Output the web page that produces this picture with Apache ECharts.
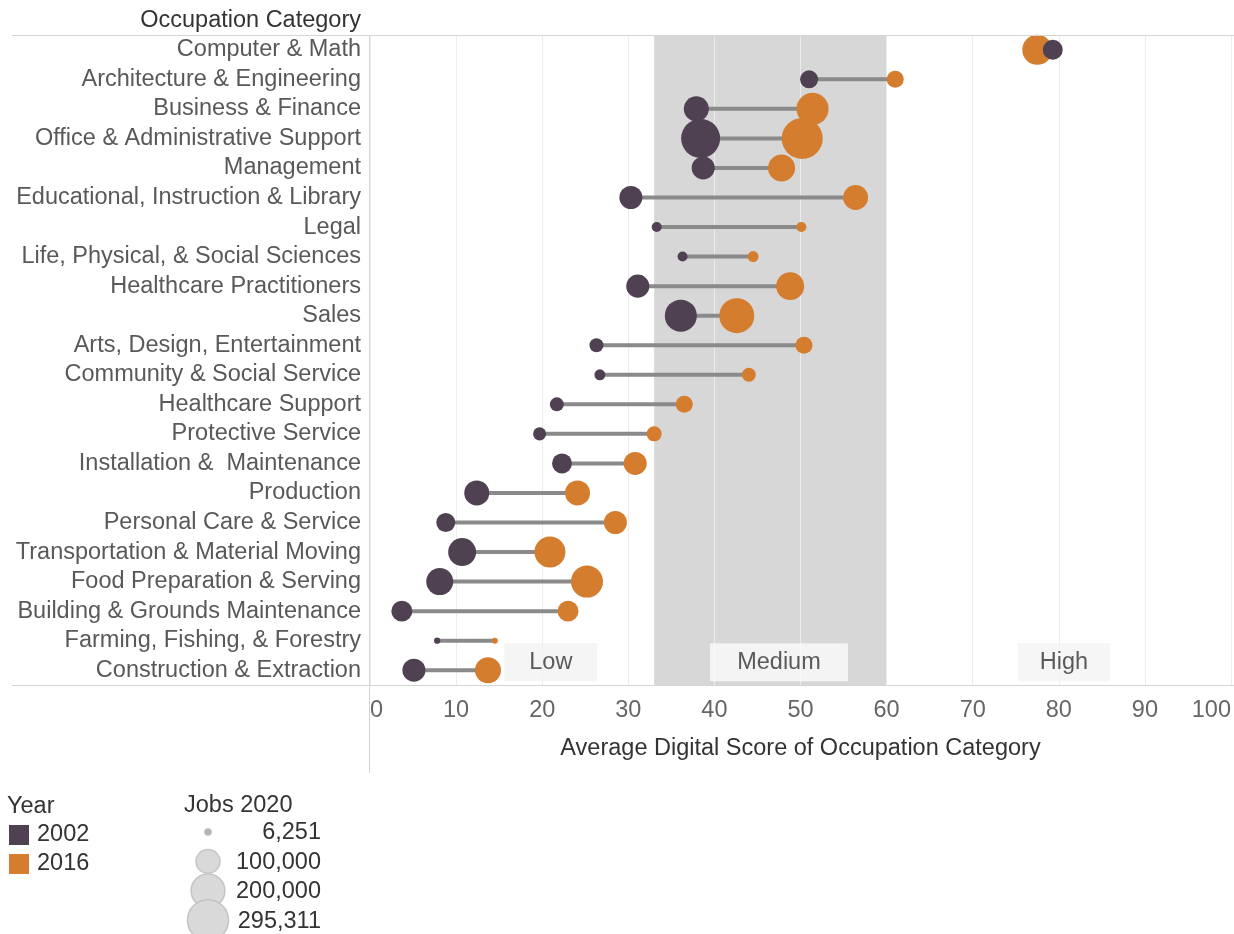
<!DOCTYPE html>
<html>
<head>
<meta charset="utf-8">
<script src="https://cdn.jsdelivr.net/npm/echarts@6/dist/echarts.min.js"></script>
<style>
html,body{margin:0;padding:0;background:#fff;}
#chart{width:1234px;height:934px;}
</style>
</head>
<body>
<div id="chart"></div>
<script>
const categories = [
  'Computer & Math','Architecture & Engineering','Business & Finance','Office & Administrative Support',
  'Management','Educational, Instruction & Library','Legal','Life, Physical, & Social Sciences',
  'Healthcare Practitioners','Sales','Arts, Design, Entertainment','Community & Social Service',
  'Healthcare Support','Protective Service','Installation &  Maintenance','Production',
  'Personal Care & Service','Transportation & Material Moving','Food Preparation & Serving',
  'Building & Grounds Maintenance','Farming, Fishing, & Forestry','Construction & Extraction'
];
const score2002 = [79.3, 51.0, 37.9, 38.4, 38.7, 30.3, 33.3, 36.3, 31.1, 36.1, 26.3, 26.7, 21.7, 19.7, 22.3, 12.4, 8.8, 10.7, 8.1, 3.7, 7.8, 5.1];
const score2016 = [77.5, 61.0, 51.4, 50.2, 47.8, 56.4, 50.1, 44.5, 48.8, 42.6, 50.4, 44.0, 36.5, 33.0, 30.8, 24.1, 28.5, 20.9, 25.2, 23.0, 14.5, 13.7];
const jobs2002 = [70000, 57000, 110000, 267000, 93000, 93000, 17500, 17500, 93000, 180000, 34000, 21000, 34000, 30000, 70000, 110000, 63000, 137000, 128000, 77000, 6800, 93000];
const jobs2016 = [158000, 51000, 180000, 295311, 128000, 110000, 17500, 21000, 137000, 215000, 51000, 34000, 51000, 39500, 93000, 110000, 93000, 169000, 180000, 77000, 6251, 119000];
const xTicks = [0, 10, 20, 30, 40, 50, 60, 70, 80, 90, 100];
const bandRange = [33, 60];
const bandLabels = ['Low', 'Medium', 'High'];
const bandLabelX = [21.0, 47.5, 80.6];
const years = ['2002', '2016'];
const sizeLegendValues = [6251, 100000, 200000, 295311];

// styles
const C2002 = '#4f4152', C2016 = '#d57d2e';
const FONT = "'Liberation Sans', Arial, sans-serif";
const FS = 23.5;
const K = 0.0755; // diameter per sqrt(jobs)
const diam = v => K * Math.sqrt(v);
const boxW = [93, 138, 92];
const boxColor = ['#f3f3f3', '#fbfbfb', '#f4f4f4'];

const chart = echarts.init(document.getElementById('chart'));

function txt(x, y, s, align, color) {
  return {type:'text', x:x, y:y, style:{text:s, font:FS+'px '+FONT, fill:color||'#333', align:align||'left', textAlign:align||'left', verticalAlign:'middle', textVerticalAlign:'middle'}};
}

const graphic = [
  {type:'line', shape:{x1:12,y1:35.5,x2:1234,y2:35.5}, style:{stroke:'#d4d4d4',lineWidth:1}, z:10},
  {type:'line', shape:{x1:12,y1:685.5,x2:1234,y2:685.5}, style:{stroke:'#d4d4d4',lineWidth:1}, z:10},
  {type:'line', shape:{x1:369.5,y1:35,x2:369.5,y2:773}, style:{stroke:'#d4d4d4',lineWidth:1}, z:10},
  txt(361, 21, 'Occupation Category', 'right'),
  txt(7, 807, 'Year'),
  txt(184, 806, 'Jobs 2020')
];
years.forEach((y, i) => {
  graphic.push({type:'rect', shape:{x:9, y:825 + i*29, width:20, height:20}, style:{fill: i===0 ? C2002 : C2016}});
  graphic.push(txt(37, 835 + i*29, y));
});
sizeLegendValues.forEach((v, i) => {
  const cy = 832 + i*29.4;
  graphic.push({type:'circle', shape:{cx:208, cy:cy, r:diam(v)/2},
    style:{fill: i===0 ? '#b5b5b5' : '#d9d9d9', stroke: i===0 ? '#b5b5b5' : '#c4c4c4', lineWidth:1.5}});
  graphic.push(txt(321, cy + 1, v.toLocaleString('en-US'), 'right'));
});

chart.setOption({
  animation:false,
  backgroundColor:'#fff',
  grid:{left:370, right:0, top:35, bottom:249, containLabel:false},
  xAxis:{
    type:'value', min:0, max:100, interval:10, z:3,
    axisLine:{show:false}, axisTick:{show:false},
    splitLine:{show:true, lineStyle:{color:'#ececec', width:1}},
    axisLabel:{color:'#666', fontSize:FS, fontFamily:FONT, margin:14, alignMinLabel:'left', alignMaxLabel:'right'},
    name:'Average Digital Score of Occupation Category', nameLocation:'middle', nameGap:52,
    nameTextStyle:{color:'#333', fontSize:FS, fontFamily:FONT}
  },
  yAxis:{
    type:'category', data:categories, inverse:true, z:3,
    axisLine:{show:false}, axisTick:{show:false}, splitLine:{show:false},
    axisLabel:{color:'#595959', fontSize:FS, fontFamily:FONT, margin:9, interval:0}
  },
  graphic: graphic,
  series:[
    {
      type:'scatter', data:[], z:1, silent:true,
      markArea:{silent:true, itemStyle:{color:'#d7d7d7'}, data:[[{xAxis:bandRange[0]},{xAxis:bandRange[1]}]]}
    },
    {
      type:'custom', z:4, silent:true,
      data: categories.map((c,i)=>[score2002[i], score2016[i], i]),
      encode:{x:[0,1], y:2},
      renderItem:(params, api) => {
        const a = api.coord([api.value(0), api.value(2)]);
        const b = api.coord([api.value(1), api.value(2)]);
        return {type:'line', shape:{x1:a[0],y1:a[1],x2:b[0],y2:b[1]}, style:{stroke:'#8a8a8a', lineWidth:4}};
      }
    },
    {
      name:'2016', type:'scatter', z:5,
      data: categories.map((c,i)=>({value:[score2016[i], c]})),
      symbolSize:(val, p) => diam(jobs2016[p.dataIndex]),
      itemStyle:{color:C2016, opacity:1}
    },
    {
      name:'2002', type:'scatter', z:6,
      data: categories.map((c,i)=>({value:[score2002[i], c]})),
      symbolSize:(val, p) => diam(jobs2002[p.dataIndex]),
      itemStyle:{color:C2002, opacity:1}
    },
    {
      type:'scatter', z:7, silent:true,
      data: bandLabels.map((l,i)=>({
        value:[bandLabelX[i], categories[categories.length-1]], name:l,
        symbolSize:[boxW[i], 38], itemStyle:{color:boxColor[i]}
      })),
      symbol:'rect', symbolOffset:[0,-8],
      label:{show:true, position:'inside', formatter:p=>p.name, color:'#333', fontSize:FS, fontFamily:FONT}
    }
  ]
});
</script>
</body>
</html>
